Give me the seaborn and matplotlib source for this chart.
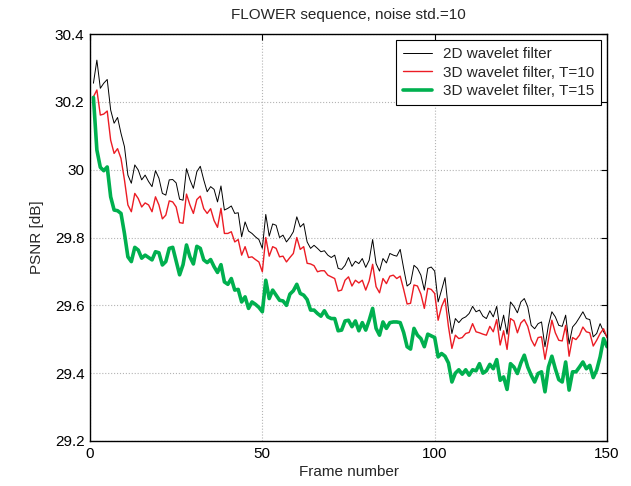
import numpy as np
import pandas as pd
import matplotlib
matplotlib.use("Agg")
import matplotlib.pyplot as plt
import seaborn as sns

# PSNR per frame
frames = np.arange(1, 151)

psnr_2d = [
    30.255, 30.323, 30.240, 30.255, 30.266, 30.176, 30.137, 30.154, 30.107, 30.068,
    29.984, 29.960, 30.014, 29.999, 29.970, 29.984, 29.965, 29.950, 29.997, 29.975,
    29.930, 29.925, 29.970, 29.971, 29.961, 29.913, 29.910, 30.003, 29.970, 29.945,
    29.994, 30.010, 29.970, 29.935, 29.950, 29.942, 29.905, 29.952, 29.881, 29.886,
    29.893, 29.871, 29.873, 29.802, 29.846, 29.819, 29.812, 29.802, 29.794, 29.768,
    29.868, 29.804, 29.840, 29.836, 29.800, 29.807, 29.787, 29.800, 29.817, 29.861,
    29.831, 29.841, 29.787, 29.768, 29.777, 29.768, 29.758, 29.761, 29.748, 29.741,
    29.748, 29.709, 29.706, 29.718, 29.741, 29.715, 29.730, 29.723, 29.738, 29.712,
    29.733, 29.794, 29.723, 29.701, 29.738, 29.725, 29.753, 29.748, 29.745, 29.765,
    29.709, 29.657, 29.665, 29.718, 29.709, 29.689, 29.645, 29.709, 29.713, 29.701,
    29.610, 29.645, 29.682, 29.586, 29.517, 29.561, 29.549, 29.561, 29.566, 29.576,
    29.597, 29.581, 29.586, 29.568, 29.561, 29.584, 29.566, 29.597, 29.526, 29.571,
    29.515, 29.610, 29.597, 29.578, 29.610, 29.620, 29.596, 29.541, 29.531, 29.546,
    29.551, 29.478, 29.541, 29.581, 29.566, 29.541, 29.538, 29.571, 29.486, 29.536,
    29.548, 29.564, 29.581, 29.561, 29.558, 29.507, 29.517, 29.546, 29.522, 29.507,
]

psnr_3d_t10 = [
    30.215, 30.235, 30.161, 30.164, 30.173, 30.087, 30.048, 30.062, 30.033, 29.970,
    29.896, 29.876, 29.930, 29.915, 29.890, 29.902, 29.896, 29.876, 29.920, 29.896,
    29.855, 29.866, 29.908, 29.905, 29.890, 29.844, 29.842, 29.928, 29.896, 29.871,
    29.912, 29.922, 29.885, 29.871, 29.885, 29.850, 29.830, 29.886, 29.812, 29.812,
    29.817, 29.787, 29.794, 29.748, 29.773, 29.741, 29.743, 29.735, 29.728, 29.699,
    29.800, 29.745, 29.773, 29.768, 29.743, 29.745, 29.728, 29.741, 29.753, 29.800,
    29.765, 29.773, 29.724, 29.722, 29.717, 29.699, 29.702, 29.702, 29.689, 29.684,
    29.679, 29.642, 29.645, 29.674, 29.684, 29.657, 29.674, 29.666, 29.674, 29.645,
    29.672, 29.721, 29.655, 29.637, 29.679, 29.664, 29.686, 29.689, 29.679, 29.686,
    29.647, 29.604, 29.606, 29.660, 29.657, 29.633, 29.591, 29.650, 29.647, 29.635,
    29.556, 29.596, 29.620, 29.537, 29.473, 29.512, 29.502, 29.505, 29.517, 29.520,
    29.546, 29.522, 29.519, 29.515, 29.512, 29.538, 29.522, 29.558, 29.483, 29.525,
    29.470, 29.561, 29.554, 29.519, 29.548, 29.558, 29.538, 29.499, 29.480, 29.505,
    29.507, 29.441, 29.499, 29.556, 29.519, 29.497, 29.495, 29.541, 29.450, 29.505,
    29.499, 29.512, 29.536, 29.522, 29.519, 29.480, 29.497, 29.517, 29.531, 29.505,
]

psnr_3d_t15 = [
    30.213, 30.058, 30.007, 29.997, 30.008, 29.920, 29.881, 29.879, 29.871, 29.812,
    29.743, 29.729, 29.771, 29.763, 29.739, 29.748, 29.741, 29.734, 29.758, 29.755,
    29.719, 29.729, 29.768, 29.771, 29.730, 29.690, 29.720, 29.778, 29.743, 29.722,
    29.774, 29.768, 29.734, 29.726, 29.735, 29.714, 29.697, 29.720, 29.669, 29.662,
    29.679, 29.645, 29.647, 29.610, 29.625, 29.591, 29.610, 29.603, 29.594, 29.581,
    29.674, 29.620, 29.645, 29.630, 29.615, 29.613, 29.600, 29.633, 29.643, 29.662,
    29.635, 29.630, 29.617, 29.586, 29.586, 29.576, 29.568, 29.584, 29.566, 29.561,
    29.561, 29.525, 29.527, 29.554, 29.556, 29.537, 29.554, 29.525, 29.549, 29.527,
    29.556, 29.591, 29.532, 29.512, 29.551, 29.532, 29.549, 29.551, 29.551, 29.549,
    29.520, 29.478, 29.471, 29.532, 29.512, 29.502, 29.478, 29.515, 29.510, 29.505,
    29.448, 29.458, 29.450, 29.430, 29.374, 29.400, 29.410, 29.397, 29.410, 29.394,
    29.410, 29.407, 29.428, 29.400, 29.407, 29.426, 29.413, 29.440, 29.379, 29.389,
    29.352, 29.428, 29.418, 29.399, 29.430, 29.453, 29.418, 29.394, 29.374, 29.399,
    29.404, 29.345, 29.418, 29.450, 29.413, 29.381, 29.374, 29.433, 29.350, 29.404,
    29.404, 29.418, 29.433, 29.413, 29.423, 29.387, 29.409, 29.448, 29.502, 29.478,
]

labels = ["2D wavelet filter", "3D wavelet filter, T=10", "3D wavelet filter, T=15"]
colors = ["black", "#ec1c24", "#00b04f"]
widths = [0.7, 1.0, 2.6]

x_ticks = [0, 50, 100, 150]
y_ticks = [29.2, 29.4, 29.6, 29.8, 30.0, 30.2, 30.4]
y_tick_labels = ["29.2", "29.4", "29.6", "29.8", "30", "30.2", "30.4"]

sns.set_style("white")
plt.rcParams['font.family'] = ['Liberation Sans', 'DejaVu Sans']
plt.rcParams['font.size'] = 11

fig = plt.figure(figsize=(6.31, 4.86), dpi=100)
ax = fig.add_axes([0.1426, 0.0926, 0.8194, 0.8374])

for series, label, color, lw in zip([psnr_2d, psnr_3d_t10, psnr_3d_t15], labels, colors, widths):
    df = pd.DataFrame({"frame": frames, "psnr": series})
    sns.lineplot(data=df, x="frame", y="psnr", ax=ax, color=color, linewidth=lw, label=label)

ax.set_xlim(0, 150)
ax.set_ylim(29.2, 30.4)
ax.set_xticks(x_ticks)
ax.set_xticklabels([str(t) for t in x_ticks])
ax.set_yticks(y_ticks)
ax.set_yticklabels(y_tick_labels)

ax.grid(True, linestyle=":", color="#b4b4b4", linewidth=0.8)
ax.tick_params(direction="in", top=True, right=True, length=4, width=0.8,
               labelsize=11, colors="black", pad=4)
for sp in ax.spines.values():
    sp.set_color("black")
    sp.set_linewidth(1.0)

ax.set_title("FLOWER sequence, noise std.=10", fontsize=11, pad=11)
ax.set_xlabel("Frame number", fontsize=11, labelpad=3)
ax.set_ylabel("PSNR [dB]", fontsize=11, labelpad=8)

leg = ax.legend(loc="upper right", fontsize=11, frameon=True, fancybox=False,
                framealpha=1, edgecolor="black", borderaxespad=0.4,
                handlelength=1.9, handletextpad=0.7, labelspacing=0.3, borderpad=0.45)
leg.get_frame().set_linewidth(0.8)

fig.savefig("out.png", dpi=100)
